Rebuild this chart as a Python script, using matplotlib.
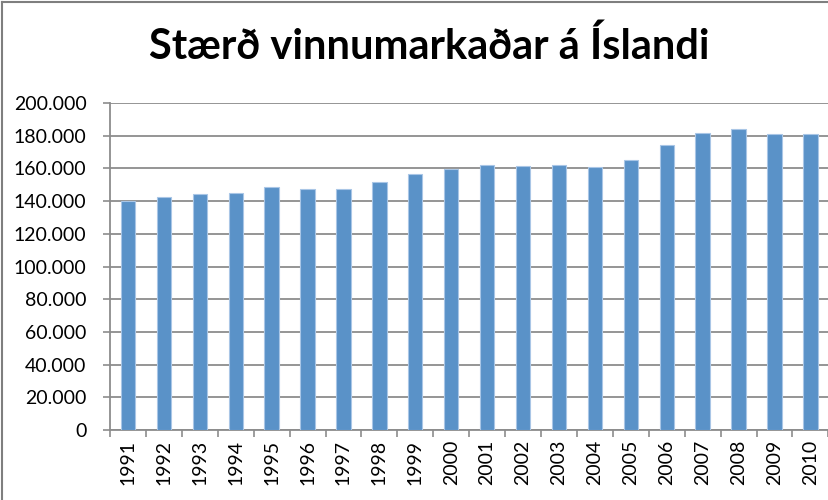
import matplotlib
matplotlib.use("Agg")
import matplotlib.pyplot as plt
from matplotlib.ticker import FuncFormatter, FixedLocator
from matplotlib.lines import Line2D

years = ["1991", "1992", "1993", "1994", "1995", "1996", "1997", "1998", "1999", "2000",
         "2001", "2002", "2003", "2004", "2005", "2006", "2007", "2008", "2009", "2010"]
workforce = [140000, 142400, 144100, 144900, 148600, 147200, 147300, 151600, 156300, 159700,
             162200, 161400, 161800, 160800, 165100, 174300, 181600, 184100, 181000, 181000]
y_ticks = [0, 20000, 40000, 60000, 80000, 100000, 120000, 140000, 160000, 180000, 200000]
title = "Stærð vinnumarkaðar á Íslandi"

plt.rcParams["font.family"] = ["Lato", "DejaVu Sans"]

fig = plt.figure(figsize=(8.29, 5.0), dpi=100)
ax = fig.add_axes([0.1327, 0.14, 0.8665, 0.654])

x = list(range(len(years)))
ax.bar(x, workforce, width=0.4, color="#5A92C8", edgecolor="#A9C6E6", linewidth=0.8, zorder=3)

ax.set_xlim(-0.5, len(years) - 0.5)
ax.set_ylim(0, 200000)
ax.set_yticks(y_ticks)
ax.yaxis.set_major_formatter(FuncFormatter(lambda v, p: "0" if v == 0 else f"{int(v):,}".replace(",", ".")))
ax.grid(axis="y", color="#8C8C8C", linewidth=1.3, zorder=0)

ax.xaxis.set_major_locator(FixedLocator([i - 0.5 for i in range(len(years) + 1)]))
ax.xaxis.set_minor_locator(FixedLocator(x))
ax.set_xticklabels([])
ax.set_xticklabels(years, minor=True, rotation=90)
ax.tick_params(axis="x", which="major", length=5, width=1.2, color="#8C8C8C")
ax.tick_params(axis="x", which="minor", length=0, pad=7, labelsize=14, labelcolor="#000000")
ax.tick_params(axis="y", length=5, width=1.2, color="#8C8C8C", pad=12, labelsize=14, labelcolor="#000000")

for s in ["top", "right"]:
    ax.spines[s].set_visible(False)
for s in ["left", "bottom"]:
    ax.spines[s].set_color("#8C8C8C")
    ax.spines[s].set_linewidth(1.3)

fig.text(0.518, 0.908, title, ha="center", va="center", fontsize=30,
         fontweight="bold")

# chart border (left and top edges visible)
fig.add_artist(Line2D([0.003, 0.003], [0, 0.996], transform=fig.transFigure, color="#7F7F7F", linewidth=1.5))
fig.add_artist(Line2D([0.003, 1.0], [0.996, 0.996], transform=fig.transFigure, color="#7F7F7F", linewidth=1.5))

fig.savefig("out.png", dpi=100)
